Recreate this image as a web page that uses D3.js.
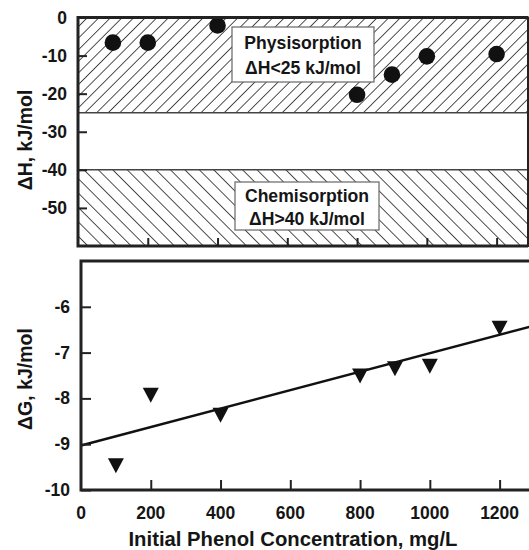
<!DOCTYPE html>
<html><head><meta charset="utf-8">
<script src="https://cdn.jsdelivr.net/npm/d3@7"></script>
<style>body{margin:0;background:#fff}svg{display:block}text{font-family:"Liberation Sans",Arial,sans-serif;font-weight:bold;fill:#151515}</style>
</head><body>
<script>
const concentrations = [100, 200, 400, 800, 900, 1000, 1200];
const deltaH = [-6.6, -6.6, -2.1, -20.3, -15.0, -10.2, -9.6];
const deltaG = [-9.47, -7.93, -8.37, -7.51, -7.35, -7.30, -6.47];
const fitLine = [[0, -9.03], [1290, -6.43]];
const xTicks = [0, 200, 400, 600, 800, 1000, 1200];
const hTicks = [0, -10, -20, -30, -40, -50];
const gTicks = [-6, -7, -8, -9, -10];
const regions = [
  {name: "Physisorption", rule: "ΔH<25 kJ/mol", from: 0, to: -25, pattern: "hatchUp"},
  {name: "Chemisorption", rule: "ΔH>40 kJ/mol", from: -40, to: -60, pattern: "hatchDown"}
];

const W = 529, H = 550;
const svg = d3.select("body").append("svg").attr("width", W).attr("height", H);
const defs = svg.append("defs");
function hatch(id, angle, gap) {
  const p = defs.append("pattern").attr("id", id).attr("patternUnits", "userSpaceOnUse")
    .attr("width", gap).attr("height", gap).attr("patternTransform", `rotate(${angle})`);
  p.append("line").attr("x1", 0).attr("y1", 0).attr("x2", 0).attr("y2", gap)
    .attr("stroke", "#151515").attr("stroke-width", 1.5);
}
hatch("hatchUp", 45, 8.2);
hatch("hatchDown", -45, 10.2);

// ---- top panel
const xT = d3.scaleLinear().domain([0, 1290]).range([78, 528]);
const yT = d3.scaleLinear().domain([0, -60]).range([17.5, 246]);
const gTop = svg.append("g");
regions.forEach(r => {
  gTop.append("rect").attr("x", xT(0)).attr("width", xT(1290) - xT(0))
    .attr("y", yT(r.from)).attr("height", yT(r.to) - yT(r.from))
    .attr("fill", `url(#${r.pattern})`);
});
gTop.append("line").attr("x1", xT(0)).attr("x2", xT(1290)).attr("y1", yT(-25)).attr("y2", yT(-25)).attr("stroke", "#444").attr("stroke-width", 1.5);
gTop.append("line").attr("x1", xT(0)).attr("x2", xT(1290)).attr("y1", yT(-40)).attr("y2", yT(-40)).attr("stroke", "#444").attr("stroke-width", 1.5);

// label boxes
const boxes = [
  {r: regions[0], x: 232, y: 27, w: 142, h: 55, cx: 303, b1: 49, b2: 74},
  {r: regions[1], x: 235, y: 182, w: 144, h: 48, cx: 307, b1: 202, b2: 225}
];
boxes.forEach(b => {
  gTop.append("rect").attr("x", b.x).attr("y", b.y).attr("width", b.w).attr("height", b.h)
    .attr("fill", "#fff").attr("stroke", "#666").attr("stroke-width", 1.2);
  gTop.append("text").attr("x", b.cx).attr("y", b.b1).attr("text-anchor", "middle").attr("font-size", 17.6).text(b.r.name);
  gTop.append("text").attr("x", b.cx).attr("y", b.b2).attr("text-anchor", "middle").attr("font-size", 17.6).text(b.r.rule);
});

gTop.selectAll("circle.h").data(concentrations).join("circle").attr("class", "h")
  .attr("cx", d => xT(d)).attr("cy", (d, i) => yT(deltaH[i])).attr("r", 8.3).attr("fill", "#111");

// frame top panel
gTop.append("rect").attr("x", xT(0)).attr("y", yT(0)).attr("width", xT(1290) - xT(0)).attr("height", yT(-60) - yT(0))
  .attr("fill", "none").attr("stroke", "#222").attr("stroke-width", 2);
gTop.append("path").attr("d", `M${xT(1290)},${yT(0)}H${xT(0)}V${yT(-60)}H${xT(1290)}`)
  .attr("fill", "none").attr("stroke", "#222").attr("stroke-width", 3);

const axHL = gTop.append("g").attr("transform", `translate(${xT(0)},0)`)
  .call(d3.axisRight(yT).tickValues(hTicks).tickSize(9).tickFormat(""));
const axHB = gTop.append("g").attr("transform", `translate(0,${yT(-60)})`)
  .call(d3.axisTop(xT).tickValues(xTicks.slice(1)).tickSize(8).tickFormat(""));
[axHL, axHB].forEach(a => { a.select(".domain").remove(); a.selectAll("line").attr("stroke", "#222").attr("stroke-width", 2); });
gTop.selectAll("text.ht").data(hTicks).join("text").attr("class", "ht")
  .attr("x", 67).attr("y", d => yT(d) + 6).attr("text-anchor", "end").attr("font-size", 17.5).text(d => d);

// ---- bottom panel
const xB = d3.scaleLinear().domain([0, 1290]).range([81, 531]);
const yB = d3.scaleLinear().domain([-10, -5]).range([490, 261]);
const gBot = svg.append("g");
const line = d3.line().x(d => xB(d[0])).y(d => yB(d[1]));
gBot.append("path").attr("d", line(fitLine)).attr("stroke", "#111").attr("stroke-width", 2.5).attr("fill", "none");
gBot.selectAll("path.g").data(concentrations).join("path").attr("class", "g")
  .attr("d", (d, i) => {
    const cx = xB(d), cy = yB(deltaG[i]);
    return `M${cx - 8},${cy - 7.5}L${cx + 8},${cy - 7.5}L${cx},${cy + 7.5}Z`;
  }).attr("fill", "#111");

gBot.append("path").attr("d", `M${xB(1290)},${yB(-5)}H${xB(0)}V${yB(-10)}H${xB(1290)}`)
  .attr("fill", "none").attr("stroke", "#222").attr("stroke-width", 3);
const axGL = gBot.append("g").attr("transform", `translate(${xB(0)},0)`)
  .call(d3.axisRight(yB).tickValues(gTicks).tickSize(10).tickFormat(""));
const axGB = gBot.append("g").attr("transform", `translate(0,${yB(-10)})`)
  .call(d3.axisTop(xB).tickValues(xTicks.slice(1)).tickSize(10).tickFormat(""));
[axGL, axGB].forEach(a => { a.select(".domain").remove(); a.selectAll("line").attr("stroke", "#222").attr("stroke-width", 2); });
gBot.selectAll("text.gt").data(gTicks).join("text").attr("class", "gt")
  .attr("x", 70).attr("y", d => yB(d) + 6).attr("text-anchor", "end").attr("font-size", 17.5).text(d => d);
gBot.selectAll("text.xt").data(xTicks).join("text").attr("class", "xt")
  .attr("x", d => xB(d)).attr("y", 519).attr("text-anchor", "middle").attr("font-size", 17.5).text(d => d);

svg.append("text").attr("x", 293).attr("y", 546).attr("text-anchor", "middle").attr("font-size", 20.3)
  .text("Initial Phenol Concentration, mg/L");
svg.append("text").attr("transform", "translate(32,140) rotate(-90)").attr("text-anchor", "middle").attr("font-size", 19.5)
  .text("ΔH, kJ/mol");
svg.append("text").attr("transform", "translate(32,379) rotate(-90)").attr("text-anchor", "middle").attr("font-size", 19.5)
  .text("ΔG, kJ/mol");
</script>
</body></html>
